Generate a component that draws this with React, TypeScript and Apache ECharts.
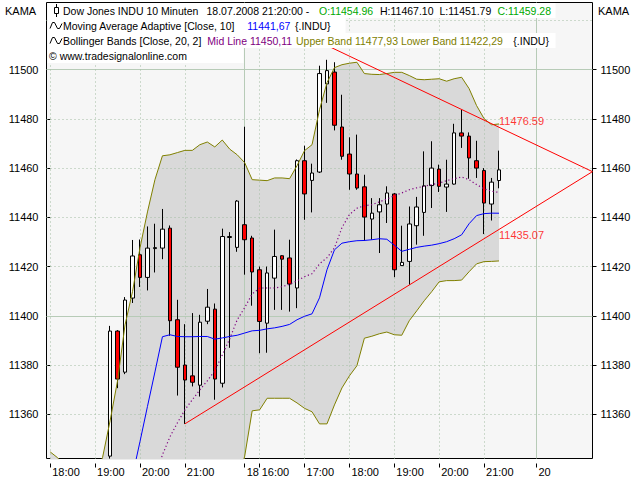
import React, { useEffect, useRef } from "react";
import * as echarts from "echarts";

const FONT = "'Liberation Sans', Arial, sans-serif";

// ---- time categories (10-minute bars) ----
const day1Times = ["18:00","18:10","18:20","18:30","18:40","18:50","19:00","19:10","19:20","19:30","19:40","19:50","20:00","20:10","20:20","20:30","20:40","20:50","21:00","21:10","21:20","21:30","21:40","21:50","22:00","22:10"];
const day2Times = ["15:40","15:50","16:00","16:10","16:20","16:30","16:40","16:50","17:00","17:10","17:20","17:30","17:40","17:50","18:00","18:10","18:20","18:30","18:40","18:50","19:00","19:10","19:20","19:30","19:40","19:50","20:00","20:10","20:20","20:30","20:40","20:50","21:00","21:10","21:20","21:30","21:40","21:50","22:00"];
const day3Times = ["15:40","15:50","16:00","16:10","16:20","16:30","16:40","16:50"];
const categories = [
  ...day1Times.map((t) => "17.07 " + t),
  ...day2Times.map((t) => "18.07 " + t),
  ...day3Times.map((t) => "20.07 " + t),
];

const xTickLabels: [string, string][] = [
  ["17.07 18:00", "18:00"], ["17.07 19:00", "19:00"], ["17.07 20:00", "20:00"], ["17.07 21:00", "21:00"],
  ["18.07 15:40", "18"], ["18.07 16:00", "16:00"], ["18.07 17:00", "17:00"], ["18.07 18:00", "18:00"],
  ["18.07 19:00", "19:00"], ["18.07 20:00", "20:00"], ["18.07 21:00", "21:00"], ["20.07 15:40", "20"],
];
const dottedVLines = ["17.07 18:00","17.07 19:00","17.07 20:00","17.07 21:00","18.07 16:00","18.07 17:00","18.07 18:00","18.07 19:00","18.07 20:00","18.07 21:00"];
const solidVLines = ["18.07 15:40", "20.07 15:40"];

// ---- y axis ----
const yMin = 11342.03;
const yMax = 11527.27;
const yTickValues = [11360, 11380, 11400, 11420, 11440, 11460, 11480, 11500];
const dottedHLines = [11360, 11380, 11420, 11440, 11460, 11480, 11520];
const solidHLines = [11400, 11500];

// ---- candles (first candle at 17.07 19:20) ----
const candleStart = "17.07 19:20";
const opens = [11343.0,11393.8,11377.1,11407.2,11424.8,11415.6,11427.3,11427.5,11435.6,11398.4,
  11380.0,11375.6,11371.8,11397.8,11402.7,11372.6,11431.8,11427.8,11437.0,11431.6,
  11418.7,11397.0,11415.3,11424.4,11423.5,11411.3,11463.0,11455.0,11458.4,11494.2,
  11499.0,11476.7,11465.7,11457.6,11452.4,11439.3,11442.2,11445.4,11449.5,11420.4,
  11422.1,11436.6,11442.0,11452.9,11459.6,11452.3,11453.5,11474.3,11473.0,11463.0,
  11459.0,11445.4,11454.96];
const highs = [11395.9,11394.2,11407.6,11430.8,11431.0,11436.3,11437.4,11443.4,11436.7,11406.5,
  11396.6,11401.1,11400.4,11410.9,11405.0,11435.4,11434.0,11447.0,11476.8,11432.5,
  11420.0,11420.0,11435.0,11424.6,11430.9,11463.5,11469.1,11461.8,11501.6,11504.0,
  11503.0,11489.8,11472.5,11473.6,11457.3,11447.8,11447.8,11452.6,11449.9,11436.6,
  11444.4,11448.3,11466.8,11470.9,11461.4,11463.4,11478.0,11483.7,11474.5,11471.1,
  11460.0,11456.0,11467.10];
const lows = [11342.0,11370.6,11376.3,11405.2,11411.7,11410.3,11417.6,11423.0,11391.9,11367.6,
  11356.1,11371.3,11367.2,11396.6,11365.9,11370.9,11387.0,11426.0,11416.7,11404.1,
  11384.8,11385.0,11402.4,11402.4,11401.7,11403.1,11439.0,11442.0,11458.0,11486.5,
  11475.3,11463.4,11451.2,11451.2,11430.5,11430.9,11425.5,11437.7,11415.7,11420.2,
  11412.6,11428.9,11432.5,11443.8,11450.3,11442.2,11453.3,11468.2,11455.7,11456.0,
  11433.2,11438.7,11451.79];
const closes = [11393.8,11374.3,11406.4,11424.3,11415.6,11427.5,11427.7,11435.2,11398.0,11379.1,
  11373.9,11373.0,11397.4,11403.5,11374.3,11432.2,11432.2,11446.6,11430.9,11417.8,
  11397.7,11417.4,11424.1,11423.0,11412.9,11463.0,11449.5,11458.0,11498.4,11499.6,
  11477.4,11464.8,11457.6,11451.9,11440.1,11441.7,11445.1,11449.9,11418.7,11421.7,
  11437.3,11444.2,11452.8,11460.0,11452.6,11453.5,11474.3,11473.0,11464.1,11460.0,
  11445.8,11454.3,11459.28];

// ---- Bollinger bands (from 17.07 18:00) ----
const upperBand = [11344.7,11342.3,11339.0,11336.0,11334.0,11333.0,11335.0,11342.5,11357.3,11373.6,
  11396.3,11409.8,11427.6,11442.2,11455.3,11465.0,11465.4,11466.3,11467.2,11467.2,
  11469.5,11470.6,11468.6,11471.4,11467.7,11465.4,11462.2,11455.3,11455.1,11454.9,
  11456.0,11456.0,11455.7,11461.0,11467.1,11469.5,11483.7,11494.7,11500.8,11502.0,
  11502.6,11503.0,11498.4,11498.1,11498.0,11498.4,11498.9,11498.9,11497.6,11496.1,
  11495.9,11496.1,11496.3,11495.3,11496.3,11496.9,11492.3,11485.4,11480.1,11477.6,11477.93];
const lowerBand = [11200,11198,11196,11195,11195,11196,11198,11200,11205,11210,
  11215,11220,11224,11228,11231,11234,11236.2,11246.7,11256.4,11264.6,
  11270.3,11276.6,11286.6,11296.8,11313.7,11331.4,11343.0,11361.4,11361.8,11366.5,
  11366.5,11366.5,11366.5,11364.6,11362.4,11361.0,11356.1,11356.1,11363.8,11370.7,
  11375.6,11379.7,11390.9,11391.7,11392.7,11393.4,11392.3,11392.1,11398.0,11402.0,
  11406.1,11409.8,11413.8,11414.3,11414.3,11414.5,11417.9,11421.1,11422.0,11422.1,11422.29];
const midStart = "17.07 20:20";
const midLine = [11334,11343.5,11350.8,11356.5,11361.8,11365.9,11369.9,11373.6,11377.6,11384.1,
  11390.7,11398.4,11403.3,11408.9,11411.3,11411.3,11411.3,11411.8,11412.8,11414.2,
  11415.9,11417.1,11421.1,11423.6,11427.6,11435.8,11441.1,11443.7,11444.7,11445.1,
  11446.3,11447.4,11448.8,11449.9,11451.2,11452.0,11452.6,11453.3,11453.9,11454.9,
  11455.7,11456.4,11455.3,11453.3,11451.6,11450.6,11450.11];

// ---- Moving Average Adaptive (KAMA) ----
const kamaStart = "17.07 19:50";
const kama = [11335,11348.9,11363.2,11377.2,11391.5,11392.3,11391.6,11391.5,11391.5,11391.6,
  11391.6,11390.5,11391.0,11391.6,11392.1,11393.0,11393.9,11394.1,11394.7,11395.1,
  11395.7,11396.5,11398.4,11399.8,11400.8,11407.3,11418.7,11426.8,11429.5,11430.1,
  11430.5,11430.6,11430.9,11431.3,11431.1,11428.7,11426.2,11427.0,11427.8,11428.3,
  11428.7,11429.3,11430.1,11431.3,11432.9,11437.4,11440.7,11441.5,11441.7,11441.67];

// ---- triangle trend lines: [bar index, value] ----
const upperTrend = [[37.49, 11509.1], [72.49, 11458.56]];
const lowerTrend = [[18, 11356.1], [72.49, 11458.56]];
const trendLabels = [[60, 11476.59], [60, 11435.07]];

const headerRows = [
  [
    { x: 63, text: "Dow Jones INDU 10 Minuten", color: "#000" },
    { x: 206.5, text: "18.07.2008 21:20:00 -", color: "#000" },
    { x: 319, text: "O:11454.96", color: "#00a800" },
    { x: 380, text: "H:11467.10", color: "#000" },
    { x: 439.5, text: "L:11451.79", color: "#000" },
    { x: 497.5, text: "C:11459.28", color: "#00a800" },
  ],
  [
    { x: 63, text: "Moving Average Adaptive [Close, 10]", color: "#000" },
    { x: 247.3, text: "11441,67", color: "#0000ff" },
    { x: 295, text: "{.INDU}", color: "#000" },
  ],
  [
    { x: 63, text: "Bollinger Bands [Close, 20, 2]", color: "#000" },
    { x: 207.3, text: "Mid Line 11450,11", color: "#800080" },
    { x: 296, text: "Upper Band 11477,93 Lower Band 11422,29", color: "#808000" },
    { x: 513.3, text: "{.INDU}", color: "#000" },
  ],
  [{ x: 49, text: "\u00a9 www.tradesignalonline.com", color: "#000" }],
];
const headerBoxes = [
  [47, 3, 508], [47, 18, 298], [47, 33, 508], [47, 48, 196],
];

export default function App() {
  const ref = useRef<HTMLDivElement>(null);
  useEffect(() => {
    if (!ref.current) return;
    const chart = echarts.init(ref.current, undefined, { renderer: "svg" });
    const n = categories.length;
    const idx = (c: string) => categories.indexOf(c);
    const c0 = idx(candleStart);
    const candleData = categories.map((_, i) => {
      const k = i - c0;
      if (k >= 0 && k < opens.length) return [opens[k], closes[k], lows[k], highs[k]];
      return ["-", "-", "-", "-"];
    });
    const pad = (arr: number[], start: number) =>
      categories.map((_, i) => (i >= start && i - start < arr.length ? arr[i - start] : "-"));
    const upperFull = pad(upperBand, 0);
    const lowerFull = pad(lowerBand, 0);
    const rangeFull = categories.map((_, i) => (i < upperBand.length ? upperBand[i] - lowerBand[i] : "-"));
    const midFull = pad(midLine, idx(midStart));
    const kamaFull = pad(kama, idx(kamaStart));
    const labelMap: Record<string, string> = {};
    xTickLabels.forEach(([c, l]) => (labelMap[c] = l));
    const labelIdx = new Set(xTickLabels.map(([c]) => idx(c)));

    const dotStyle = { type: [1, 3], color: "#a3bda3", width: 1 };
    const solidStyle = { type: "solid", color: "#b7cbb7", width: 1 };
    const gridLines = [
      ...dottedHLines.map((v) => ({ yAxis: v, lineStyle: dotStyle })),
      ...solidHLines.map((v) => ({ yAxis: v, lineStyle: solidStyle })),
      ...dottedVLines.map((c) => ({ xAxis: idx(c), lineStyle: dotStyle })),
      ...solidVLines.map((c) => ({ xAxis: idx(c), lineStyle: solidStyle })),
    ];

    const yAxisBase = {
      type: "value",
      min: yMin,
      max: yMax,
      axisLine: { show: false },
      axisTick: { show: true, customValues: yTickValues, length: 4, lineStyle: { color: "#000" } },
      axisLabel: {
        customValues: yTickValues, margin: 8, color: "#000", fontSize: 11, fontFamily: FONT,
        formatter: (v: number) => String(Math.round(v)),
      },
      splitLine: { show: false },
    };

    const HFS = 10.5;
    const graphics: any[] = [];
    headerBoxes.forEach(([x, y, w]) =>
      graphics.push({ type: "rect", z: 100, shape: { x: x + 0.5, y, width: w, height: 15 }, style: { fill: "#ffffff" } })
    );
    headerRows.forEach((row, r) =>
      row.forEach((s) =>
        graphics.push({
          type: "text", z: 101, x: s.x, y: 10.5 + r * 15,
          style: { text: s.text, fill: s.color, fontSize: HFS, fontFamily: FONT, align: "left", verticalAlign: "middle" },
        })
      )
    );
    // candle icon
    graphics.push({ type: "line", z: 101, shape: { x1: 56.5, y1: 4, x2: 56.5, y2: 17 }, style: { stroke: "#000", lineWidth: 1 } });
    graphics.push({ type: "rect", z: 102, shape: { x: 54.5, y: 7.5, width: 4, height: 6 }, style: { fill: "#fff", stroke: "#000", lineWidth: 1 } });
    // wave icons
    [25.5, 40.5].forEach((cy) =>
      graphics.push({
        type: "polyline", z: 101,
        shape: { points: [[50, cy + 3], [52.5, cy - 3], [54.5, cy - 3], [57.5, cy + 3], [59.5, cy + 3], [62, cy - 2]] },
        style: { stroke: "#000", fill: null, lineWidth: 1 },
      })
    );
    graphics.push({ type: "text", z: 101, x: 5, y: 10.5, style: { text: "KAMA", fill: "#000", fontSize: 11, fontFamily: FONT, verticalAlign: "middle" } });
    graphics.push({ type: "text", z: 101, x: 598, y: 10.5, style: { text: "KAMA", fill: "#000", fontSize: 11, fontFamily: FONT, verticalAlign: "middle" } });

    chart.setOption({
      animation: false,
      backgroundColor: "#ffffff",
      textStyle: { fontFamily: FONT },
      grid: { left: 46.5, top: 2.5, width: 546, height: 456, show: true, backgroundColor: "#f6f6f6", borderColor: "#000", borderWidth: 1 },
      xAxis: [
        {
          type: "category", data: categories, boundaryGap: true, position: "bottom", offset: 5,
          axisLine: { show: false },
          axisTick: { show: true, alignWithLabel: true, interval: (i: number) => labelIdx.has(i), length: 4, lineStyle: { color: "#000" } },
          axisLabel: {
            show: true, interval: (i: number) => labelIdx.has(i), formatter: (v: string) => labelMap[v] || "",
            align: "left", margin: 3, padding: [0, 0, 0, 2], color: "#000", fontSize: 11, fontFamily: FONT,
          },
          splitLine: { show: false },
        },
        { type: "value", min: -0.5, max: n - 0.5, show: false },
      ],
      yAxis: [
        { ...yAxisBase, position: "left" },
        { ...yAxisBase, position: "right" },
      ],
      graphic: graphics,
      series: [
        {
          name: "bbBase", type: "line", data: lowerFull, stack: "bb", symbol: "none", silent: true, z: 1,
          lineStyle: { opacity: 0 },
        },
        {
          name: "bbRange", type: "line", data: rangeFull, stack: "bb", symbol: "none", silent: true, z: 1,
          lineStyle: { opacity: 0 }, areaStyle: { color: "#d9d9d9", opacity: 1 },
        },
        {
          name: "gridlines", type: "line", xAxisIndex: 1, yAxisIndex: 0, data: [[-5, 11400]], symbol: "none", silent: true, z: 1,
          lineStyle: { opacity: 0 },
          markLine: { z: 1.5, silent: true, symbol: ["none", "none"], label: { show: false }, animation: false, data: gridLines },
        },
        {
          name: "INDU", type: "candlestick", data: candleData, barWidth: 4, z: 3,
          itemStyle: { color: "#ffffff", color0: "#ff0000", borderColor: "#000000", borderColor0: "#000000", borderColorDoji: "#000000", borderWidth: 1 },
        },
        { name: "Upper Band", type: "line", data: upperFull, symbol: "none", z: 4, lineStyle: { color: "#808000", width: 1 } },
        { name: "Lower Band", type: "line", data: lowerFull, symbol: "none", z: 4, lineStyle: { color: "#808000", width: 1 } },
        { name: "Mid Line", type: "line", data: midFull, symbol: "none", z: 4, lineStyle: { color: "#800080", width: 1.2, type: [1.2, 2.5] } },
        { name: "KAMA", type: "line", data: kamaFull, symbol: "none", z: 4, lineStyle: { color: "#0000ff", width: 1 } },
        { name: "Trend Upper", type: "line", xAxisIndex: 1, data: upperTrend, symbol: "none", z: 5, lineStyle: { color: "#ff0000", width: 1 } },
        { name: "Trend Lower", type: "line", xAxisIndex: 1, data: lowerTrend, symbol: "none", z: 5, lineStyle: { color: "#ff0000", width: 1 } },
        {
          name: "Trend Labels", type: "scatter", xAxisIndex: 1, symbolSize: 0, z: 5,
          data: [
            { value: trendLabels[0], label: { offset: [0, -6] } },
            { value: trendLabels[1], label: { offset: [0, 6] } },
          ],
          label: {
            show: true, position: "right", distance: 0, color: "#ff0000", fontSize: 11, fontFamily: FONT,
            formatter: (p: any) => p.value[1].toFixed(2),
          },
        },
      ],
    });
    return () => chart.dispose();
  }, []);
  return <div ref={ref} style={{ position: "absolute", left: 0, top: 0, width: 640, height: 480, background: "#fff" }} />;
}
